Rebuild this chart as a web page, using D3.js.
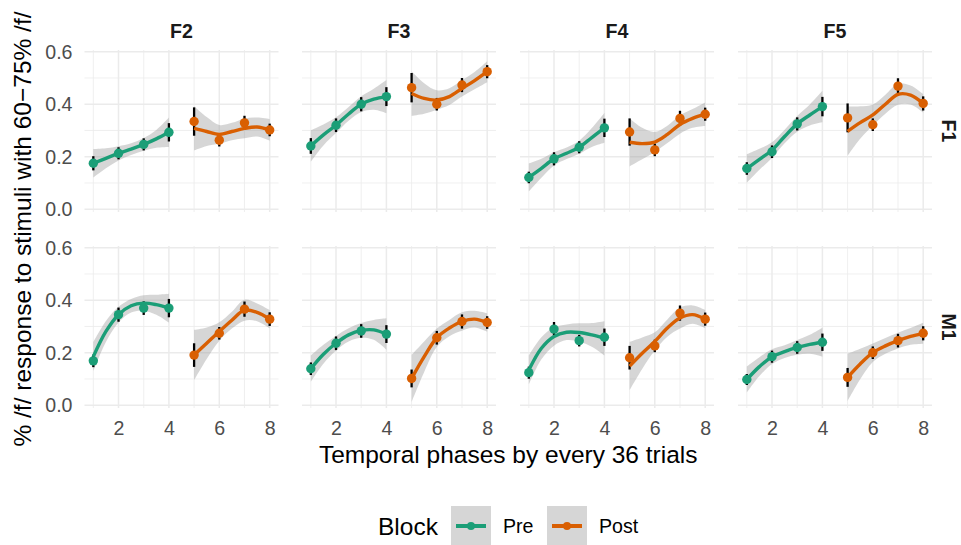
<!DOCTYPE html>
<html>
<head>
<meta charset="utf-8">
<script src="https://cdn.jsdelivr.net/npm/d3@7"></script>
<style>
  body { margin: 0; background: #fff; }
  text { font-family: "Liberation Sans", Arial, sans-serif; }
</style>
</head>
<body>
<script>
// Facet labels
const colLabels = ["F2", "F3", "F4", "F5"];
const rowLabels = ["F1", "M1"];
const blocks = ["Pre", "Post"];
const phases = [1, 2, 3, 4, 5, 6, 7, 8];
const xTicks = [2, 4, 6, 8];
const yTicks = [0, 0.2, 0.4, 0.6];

// mean % /f/ per phase, one row per column facet (F2..F5)
const meanF1 = [
  [0.175, 0.213, 0.247, 0.293, 0.334, 0.263, 0.329, 0.302],
  [0.241, 0.320, 0.400, 0.429, 0.463, 0.400, 0.473, 0.524],
  [0.121, 0.192, 0.236, 0.310, 0.294, 0.226, 0.346, 0.362],
  [0.155, 0.219, 0.325, 0.391, 0.348, 0.322, 0.469, 0.403]
];
const meanM1 = [
  [0.169, 0.345, 0.370, 0.370, 0.191, 0.274, 0.366, 0.328],
  [0.139, 0.236, 0.283, 0.271, 0.102, 0.257, 0.319, 0.315],
  [0.124, 0.290, 0.246, 0.259, 0.181, 0.226, 0.351, 0.328],
  [0.098, 0.185, 0.220, 0.240, 0.106, 0.200, 0.246, 0.274]
];

// error bar half widths
const errF1 = [
  [0.027, 0.023, 0.023, 0.035, 0.054, 0.024, 0.027, 0.024],
  [0.030, 0.026, 0.027, 0.036, 0.056, 0.024, 0.027, 0.025],
  [0.022, 0.025, 0.023, 0.035, 0.052, 0.024, 0.029, 0.025],
  [0.024, 0.024, 0.025, 0.037, 0.055, 0.024, 0.030, 0.027]
];
const errM1 = [
  [0.024, 0.027, 0.026, 0.035, 0.045, 0.024, 0.029, 0.026],
  [0.024, 0.026, 0.026, 0.034, 0.034, 0.026, 0.027, 0.024],
  [0.023, 0.027, 0.022, 0.033, 0.045, 0.024, 0.029, 0.025],
  [0.021, 0.023, 0.024, 0.033, 0.036, 0.024, 0.026, 0.027]
];

// smoothed curve, read at these phases (Pre: 1-4, Post: 5-8)
const fitX = [1, 1.5, 2, 2.5, 3, 3.5, 4, 5, 5.5, 6, 6.5, 7, 7.5, 8];
const fitF1 = [
  [0.175, 0.194, 0.213, 0.229, 0.247, 0.268, 0.293, 0.308, 0.296, 0.285, 0.296, 0.308, 0.313, 0.302],
  [0.241, 0.283, 0.320, 0.363, 0.400, 0.419, 0.429, 0.441, 0.422, 0.416, 0.429, 0.460, 0.490, 0.524],
  [0.121, 0.156, 0.192, 0.213, 0.236, 0.273, 0.310, 0.255, 0.250, 0.256, 0.285, 0.323, 0.346, 0.362],
  [0.155, 0.190, 0.225, 0.277, 0.325, 0.359, 0.391, 0.297, 0.330, 0.359, 0.400, 0.438, 0.435, 0.403]
];
const fitM1 = [
  [0.185, 0.281, 0.345, 0.379, 0.389, 0.383, 0.370, 0.191, 0.236, 0.281, 0.324, 0.362, 0.354, 0.328],
  [0.139, 0.194, 0.236, 0.268, 0.285, 0.287, 0.271, 0.102, 0.185, 0.257, 0.294, 0.319, 0.328, 0.315],
  [0.134, 0.217, 0.262, 0.278, 0.277, 0.268, 0.255, 0.149, 0.198, 0.243, 0.294, 0.332, 0.345, 0.328],
  [0.098, 0.147, 0.185, 0.204, 0.220, 0.232, 0.240, 0.106, 0.157, 0.200, 0.226, 0.246, 0.262, 0.274]
];

// half width of the grey confidence band at fitX
const bandF1 = [
  [0.054, 0.038, 0.027, 0.022, 0.024, 0.034, 0.056, 0.084, 0.055, 0.036, 0.033, 0.038, 0.036, 0.041],
  [0.060, 0.040, 0.030, 0.026, 0.030, 0.040, 0.063, 0.085, 0.058, 0.037, 0.032, 0.031, 0.033, 0.040],
  [0.053, 0.036, 0.025, 0.022, 0.025, 0.036, 0.057, 0.092, 0.060, 0.038, 0.033, 0.035, 0.036, 0.045],
  [0.054, 0.040, 0.030, 0.026, 0.030, 0.040, 0.060, 0.094, 0.062, 0.040, 0.036, 0.040, 0.036, 0.035]
];
const bandM1 = [
  [0.055, 0.040, 0.030, 0.026, 0.030, 0.038, 0.055, 0.096, 0.060, 0.035, 0.032, 0.040, 0.034, 0.035],
  [0.050, 0.036, 0.028, 0.025, 0.028, 0.038, 0.060, 0.090, 0.058, 0.035, 0.031, 0.035, 0.032, 0.035],
  [0.055, 0.042, 0.035, 0.030, 0.035, 0.045, 0.065, 0.092, 0.060, 0.035, 0.033, 0.040, 0.035, 0.035],
  [0.050, 0.036, 0.028, 0.024, 0.028, 0.036, 0.055, 0.090, 0.058, 0.035, 0.030, 0.030, 0.032, 0.040]
];

const W = 961, H = 545;
const colors = d3.scaleOrdinal().domain(blocks).range(["#1B9E77", "#D95F02"]);
const tickFont = "19.6px", titleFont = "24.5px";

const svg = d3.select("body").append("svg")
  .attr("width", W)
  .attr("height", H);

// panel layout
const panelLeft = [84.5, 302, 520, 738];
const panelTop = [50, 246];
const pw = 194, ph = 162;

const x = d3.scaleLinear().domain([0.65, 8.35]).range([0, pw]);
const y = d3.scaleLinear().domain([-0.0106, 0.6066]).range([ph, 0]);

const lineGen = d3.line()
  .x(d => x(d.x))
  .y(d => y(d.fit))
  .curve(d3.curveCatmullRom);

const areaGen = d3.area()
  .x(d => x(d.x))
  .y0(d => y(d.fit - d.band))
  .y1(d => y(d.fit + d.band))
  .curve(d3.curveCatmullRom);

const means = [meanF1, meanM1], errs = [errF1, errM1];
const fits = [fitF1, fitM1], bands = [bandF1, bandM1];

rowLabels.forEach((rl, ri) => {
  colLabels.forEach((cl, ci) => {
    const g = svg.append("g")
      .attr("transform", "translate(" + panelLeft[ci] + "," + panelTop[ri] + ")");

    // grid: minor then major
    g.selectAll(".vminor").data([1, 3, 5, 7]).enter().append("line")
      .attr("x1", d => x(d)).attr("x2", d => x(d))
      .attr("y1", 0).attr("y2", ph)
      .attr("stroke", "#EBEBEB").attr("stroke-width", 0.8);
    g.selectAll(".hminor").data([0.1, 0.3, 0.5]).enter().append("line")
      .attr("x1", 0).attr("x2", pw)
      .attr("y1", d => y(d)).attr("y2", d => y(d))
      .attr("stroke", "#EBEBEB").attr("stroke-width", 0.8);
    g.selectAll(".vmajor").data(xTicks).enter().append("line")
      .attr("x1", d => x(d)).attr("x2", d => x(d))
      .attr("y1", 0).attr("y2", ph)
      .attr("stroke", "#EBEBEB").attr("stroke-width", 1.5);
    g.selectAll(".hmajor").data(yTicks).enter().append("line")
      .attr("x1", 0).attr("x2", pw)
      .attr("y1", d => y(d)).attr("y2", d => y(d))
      .attr("stroke", "#EBEBEB").attr("stroke-width", 1.5);

    const pts = phases.map((p, i) => ({
      x: p,
      mean: means[ri][ci][i],
      err: errs[ri][ci][i],
      block: p <= 4 ? "Pre" : "Post"
    }));

    const curves = blocks.map((b, bi) => ({
      block: b,
      values: fitX.slice(bi * 7, bi * 7 + 7).map((fx, j) => ({
        x: fx,
        fit: fits[ri][ci][bi * 7 + j],
        band: bands[ri][ci][bi * 7 + j]
      }))
    }));

    // confidence bands
    g.selectAll(".band").data(curves).enter().append("path")
      .attr("d", d => areaGen(d.values))
      .attr("fill", "#999999")
      .attr("fill-opacity", 0.4);

    // error bars
    g.selectAll(".err").data(pts).enter().append("line")
      .attr("x1", d => x(d.x)).attr("x2", d => x(d.x))
      .attr("y1", d => y(d.mean - d.err))
      .attr("y2", d => y(d.mean + d.err))
      .attr("stroke", "#000").attr("stroke-width", 2.3);

    // smooth lines
    g.selectAll(".fit").data(curves).enter().append("path")
      .attr("d", d => lineGen(d.values))
      .attr("fill", "none")
      .attr("stroke", d => colors(d.block))
      .attr("stroke-width", 3.4);

    // points
    g.selectAll(".pt").data(pts).enter().append("circle")
      .attr("cx", d => x(d.x))
      .attr("cy", d => y(d.mean))
      .attr("r", 4.7)
      .attr("fill", d => colors(d.block));

    // x axis labels on bottom row
    if (ri === rowLabels.length - 1) {
      const ax = g.append("g")
        .attr("transform", "translate(0," + ph + ")")
        .call(d3.axisBottom(x).tickValues(xTicks).tickSize(0).tickPadding(13));
      ax.select(".domain").remove();
      ax.selectAll("text")
        .style("font-size", tickFont)
        .attr("fill", "#4D4D4D");
    }

    // y axis labels on first column
    if (ci === 0) {
      const ay = g.append("g")
        .call(d3.axisLeft(y).tickValues(yTicks).tickSize(0).tickPadding(12)
          .tickFormat(d3.format(".1f")));
      ay.select(".domain").remove();
      ay.selectAll("text")
        .style("font-size", tickFont)
        .attr("fill", "#4D4D4D");
    }

    // column strips
    if (ri === 0) {
      g.append("text")
        .attr("x", pw / 2)
        .attr("y", -12.5)
        .style("text-anchor", "middle")
        .style("font-size", tickFont)
        .style("font-weight", "bold")
        .attr("fill", "#1A1A1A")
        .text(cl);
    }

    // row strips
    if (ci === colLabels.length - 1) {
      g.append("text")
        .attr("transform", "translate(" + (pw + 17) + "," + (ph / 2) + ") rotate(90)")
        .style("text-anchor", "middle")
        .style("font-size", tickFont)
        .style("font-weight", "bold")
        .attr("fill", "#1A1A1A")
        .attr("dy", "0.35em")
        .text(rl);
    }
  });
});

// Axis titles
svg.append("text")
  .attr("x", (panelLeft[0] + panelLeft[3] + pw) / 2)
  .attr("y", 463)
  .style("text-anchor", "middle")
  .style("font-size", titleFont)
  .text("Temporal phases by every 36 trials");

svg.append("text")
  .attr("transform", "translate(31," + (panelTop[0] + panelTop[1] + ph) / 2 + ") rotate(-90)")
  .style("text-anchor", "middle")
  .style("font-size", titleFont)
  .text("% /f/ response to stimuli with 60\u221275% /f/");

// Legend
const legend = svg.append("g").attr("transform", "translate(378,0)");
legend.append("text")
  .attr("x", 0)
  .attr("y", 535)
  .style("font-size", titleFont)
  .text("Block");

const keyX = [73, 169];
const keys = legend.selectAll(".key").data(blocks).enter().append("g")
  .attr("transform", (d, i) => "translate(" + keyX[i] + ",506)");

keys.append("rect")
  .attr("width", 40).attr("height", 39)
  .attr("fill", "#999999").attr("fill-opacity", 0.4);
keys.append("line")
  .attr("x1", 5).attr("x2", 35)
  .attr("y1", 20).attr("y2", 20)
  .attr("stroke", d => colors(d))
  .attr("stroke-width", 4);
keys.append("circle")
  .attr("cx", 20).attr("cy", 20).attr("r", 4)
  .attr("fill", d => colors(d));
keys.append("text")
  .attr("x", 52)
  .attr("y", 20)
  .attr("dy", "0.35em")
  .style("font-size", tickFont)
  .text(d => d);
</script>
</body>
</html>
